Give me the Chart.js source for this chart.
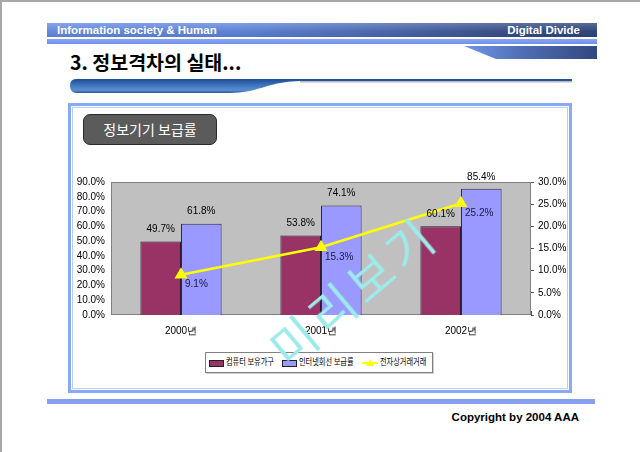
<!DOCTYPE html>
<html>
<head>
<meta charset="utf-8">
<script src="https://cdn.jsdelivr.net/npm/chart.js@4.4.1/dist/chart.umd.min.js"></script>
<style>
  html, body { margin: 0; padding: 0; }
  body { width: 640px; height: 452px; position: relative; overflow: hidden; background: #fff; font-family: "Liberation Sans", Arial, sans-serif; }
  .abs { position: absolute; }
  #frame { left: 0; top: 0; width: 640px; height: 452px; border-top: 2px solid #a8a8a8; border-left: 2px solid #a8a8a8; box-sizing: border-box; }
  #header { left: 47px; top: 23px; width: 550px; height: 14px;
    background: linear-gradient(to bottom, rgba(255,255,255,0.18), rgba(0,0,0,0.05) 60%, rgba(0,0,0,0.12)),
                linear-gradient(to right, #6a90e6 0%, #6389df 35%, #4c69ad 65%, #3a5089 85%, #334a80 100%); }
  #header span { position: absolute; top: 0; line-height: 14px; color: #fff; font-weight: bold; font-size: 11.5px; }
  #thinbar { left: 47px; top: 39px; width: 550px; height: 5px; background: linear-gradient(to bottom, #8aa6f2, #6f90ec); }
  #title { left: 70px; top: 50px; font-family: "Noto Sans CJK KR", sans-serif; font-weight: bold; font-size: 19.5px; line-height: 24px; color: #000; }
  #box { left: 68px; top: 103px; width: 504px; height: 290px; box-sizing: border-box; border: 3px solid #86aaf6; box-shadow: inset 0 0 0 1px #fff, inset 0 0 0 2px #b4cdfb; }
  #tag { left: 83px; top: 114px; width: 134px; height: 31px; box-sizing: border-box; border: 1px solid #2a2a2a; border-radius: 7px;
    background-color: #4e4e4e; background-image: radial-gradient(#6a6a6a 0.6px, transparent 0.8px); background-size: 2px 2px;
    color: #fff; font-family: "Noto Sans CJK KR", sans-serif; font-size: 14px; line-height: 29px; text-align: center; }
  #legend { left: 205px; top: 352px; width: 228px; height: 21px; box-sizing: border-box; border: 1px solid #808080; background: #fff; box-shadow: 1px 1px 0 #d0d0d0; }
  .lg-text { position: absolute; top: 355px; font-family: "Noto Sans CJK KR", sans-serif; font-size: 9px; line-height: 14px; color: #000; white-space: nowrap; transform: scaleX(0.8); transform-origin: left center; }
  .lg-box { position: absolute; top: 360px; width: 15px; height: 7px; box-sizing: border-box; border: 1px solid #222; }
  #bottombar { left: 47px; top: 399px; width: 548px; height: 5px; background: #86a0ee; }
  #copy { left: 380px; width: 199px; top: 409px; text-align: right; font-weight: bold; font-size: 11.5px; line-height: 16px; color: #000; }
  #chart { left: 0; top: 0; }
  #watermark { left: 352px; top: 289px; transform: translate(-50%, -50%) rotate(-40deg); font-family: "Noto Sans CJK KR", sans-serif; font-weight: normal; font-size: 48px; line-height: 56px; color: #9eeaea; white-space: nowrap; letter-spacing: 6px; }
</style>
</head>
<body>
<div id="frame" class="abs"></div>
<div id="header" class="abs"><span style="left:10px">Information society &amp; Human</span><span style="right:17px">Digital Divide</span></div>
<div id="thinbar" class="abs"></div>
<svg class="abs" style="left:0;top:0" width="640" height="452">
  <defs>
    <linearGradient id="wedgeGrad" x1="0" y1="0" x2="1" y2="0">
      <stop offset="0" stop-color="#7196e6"/>
      <stop offset="0.45" stop-color="#4f6db3"/>
      <stop offset="1" stop-color="#324880"/>
    </linearGradient>
    <linearGradient id="swooshGrad" x1="0" y1="0" x2="0" y2="1">
      <stop offset="0" stop-color="#1e4c96"/>
      <stop offset="0.45" stop-color="#3f74be"/>
      <stop offset="0.8" stop-color="#5b8ed2"/>
      <stop offset="1" stop-color="#2a5598"/>
    </linearGradient>
  </defs>
  <polygon points="464,46 597,46 597,59 496,59" fill="url(#wedgeGrad)"/>
  <rect x="300" y="81" width="272" height="1.5" fill="#b8b8b8"/>
  <path d="M76 79 L572 79 L572 81 L300 81 C265 82 262 93 225 93 L77 93 Q70 93 70 86 Q70 79 76 79 Z" fill="url(#swooshGrad)"/>
</svg>
<div id="title" class="abs">3. 정보격차의 실태...</div>
<div id="box" class="abs"></div>
<div id="tag" class="abs">정보기기 보급률</div>
<div id="legend" class="abs"></div>
<div id="legendItems"></div>
<div id="bottombar" class="abs"></div>
<div id="copy" class="abs">Copyright by 2004 AAA</div>
<canvas id="chart" class="abs" width="640" height="452"></canvas>
<div id="watermark" class="abs">미리보기</div>

<script>
// data
const categories = ["2000년", "2001년", "2002년"]
const seriesNames = ["컴퓨터 보유가구", "인터넷회선 보급률", "전자상거래거래"]
const computerHouseholds = [49.7, 53.8, 60.1]
const internetRate = [61.8, 74.1, 85.4]
const ecommerceRate = [9.1, 15.3, 25.2]
const leftTicks = [0, 10, 20, 30, 40, 50, 60, 70, 80, 90]
const rightTicks = [0, 5, 10, 15, 20, 25, 30]

const colores = ["#993366", "#9999ff", "#ffff00"]
const tickFont = { family: "'Liberation Sans Narrow', 'Arial Narrow', sans-serif", size: 10 }

// plot background + border
const plotBack = {
  id: "plotBack",
  beforeDatasetsDraw(chart) {
    const a = chart.chartArea
    const c = chart.ctx
    c.save()
    c.fillStyle = "#c0c0c0"
    c.fillRect(a.left, a.top, a.right - a.left, a.bottom - a.top)
    c.strokeStyle = "#808080"
    c.lineWidth = 1
    c.strokeRect(a.left + 0.5, a.top + 0.5, a.right - a.left - 1, a.bottom - a.top - 1)
    c.restore()
  },
}

// value labels
const valueLabels = {
  id: "valueLabels",
  afterDatasetsDraw(chart) {
    const c = chart.ctx
    c.save()
    c.font = "10px 'Liberation Sans Narrow', 'Arial Narrow', sans-serif"
    c.textBaseline = "middle"
    chart.data.datasets.forEach((ds, i) => {
      const meta = chart.getDatasetMeta(i)
      meta.data.forEach((el, j) => {
        const txt = ds.data[j].toFixed(1) + "%"
        if (ds.type === "line") {
          c.textAlign = "left"
          c.fillStyle = "#1a1a40"
          c.fillText(txt, el.x + 4, el.y + 10)
        } else {
          c.textAlign = "center"
          c.fillStyle = "#000"
          c.fillText(txt, el.x, el.y - 12)
        }
      })
    })
    c.restore()
  },
}

new Chart(document.getElementById("chart"), {
  type: "bar",
  data: {
    labels: categories,
    datasets: [
      {
        type: "line",
        label: seriesNames[2],
        data: ecommerceRate,
        yAxisID: "y1",
        borderColor: colores[2],
        backgroundColor: colores[2],
        borderWidth: 2.5,
        pointStyle: "triangle",
        pointRadius: 5,
        pointBackgroundColor: colores[2],
        pointBorderColor: colores[2],
        order: 0,
      },
      {
        label: seriesNames[0],
        data: computerHouseholds,
        backgroundColor: colores[0],
        borderColor: "#2a1a2a",
        borderWidth: 1,
        categoryPercentage: 0.58,
        barPercentage: 1,
        order: 1,
      },
      {
        label: seriesNames[1],
        data: internetRate,
        backgroundColor: colores[1],
        borderColor: "#2a2a4a",
        borderWidth: 1,
        categoryPercentage: 0.58,
        barPercentage: 1,
        order: 1,
      },
    ],
  },
  options: {
    responsive: false,
    animation: false,
    layout: { padding: { top: 182, bottom: 100, left: 0, right: 0 } },
    plugins: { legend: { display: false }, tooltip: { enabled: false } },
    scales: {
      x: {
        offset: true,
        grid: { display: true, offset: true, drawOnChartArea: false, tickLength: -4, color: "#555" },
        border: { display: false },
        ticks: { padding: 14, color: "#000", font: tickFont },
        afterFit: (s) => { s.height = 37 },
      },
      y: {
        position: "left",
        min: 0,
        max: 90,
        afterBuildTicks: (s) => { s.ticks = leftTicks.map((v) => ({ value: v })) },
        grid: { display: false, drawTicks: false },
        border: { display: false },
        ticks: { autoSkip: false, padding: 6, color: "#000", font: tickFont, callback: (v) => v.toFixed(1) + "%" },
        afterFit: (s) => { s.width = 111 },
      },
      y1: {
        position: "right",
        min: 0,
        max: 30,
        afterBuildTicks: (s) => { s.ticks = rightTicks.map((v) => ({ value: v })) },
        grid: { display: true, drawOnChartArea: false, tickLength: 3, color: "#555" },
        border: { display: false },
        ticks: { autoSkip: false, padding: 4, color: "#000", font: tickFont, callback: (v) => v.toFixed(1) + "%" },
        afterFit: (s) => { s.width = 109 },
      },
    },
  },
  plugins: [plotBack, valueLabels],
})

// legend (html)
const legendPos = [
  { box: 209, text: 226 },
  { box: 282, text: 299 },
  { box: 362, text: 380 },
]
const legendWrap = document.getElementById("legendItems")
;[0, 1, 2].forEach((i) => {
  const p = legendPos[i]
  if (i < 2) {
    const b = document.createElement("div")
    b.className = "lg-box"
    b.style.left = p.box + "px"
    b.style.background = colores[i]
    legendWrap.appendChild(b)
  } else {
    const l = document.createElement("div")
    l.style.cssText = "position:absolute;top:362px;height:2px;width:16px;left:" + p.box + "px;background:" + colores[2]
    legendWrap.appendChild(l)
    const t = document.createElement("div")
    t.style.cssText = "position:absolute;top:359px;left:" + (p.box + 4) + "px;width:0;height:0;border-left:4px solid transparent;border-right:4px solid transparent;border-bottom:7px solid " + colores[2]
    legendWrap.appendChild(t)
  }
  const tx = document.createElement("div")
  tx.className = "lg-text"
  tx.style.left = p.text + "px"
  tx.textContent = seriesNames[i]
  legendWrap.appendChild(tx)
})
</script>
</body>
</html>
